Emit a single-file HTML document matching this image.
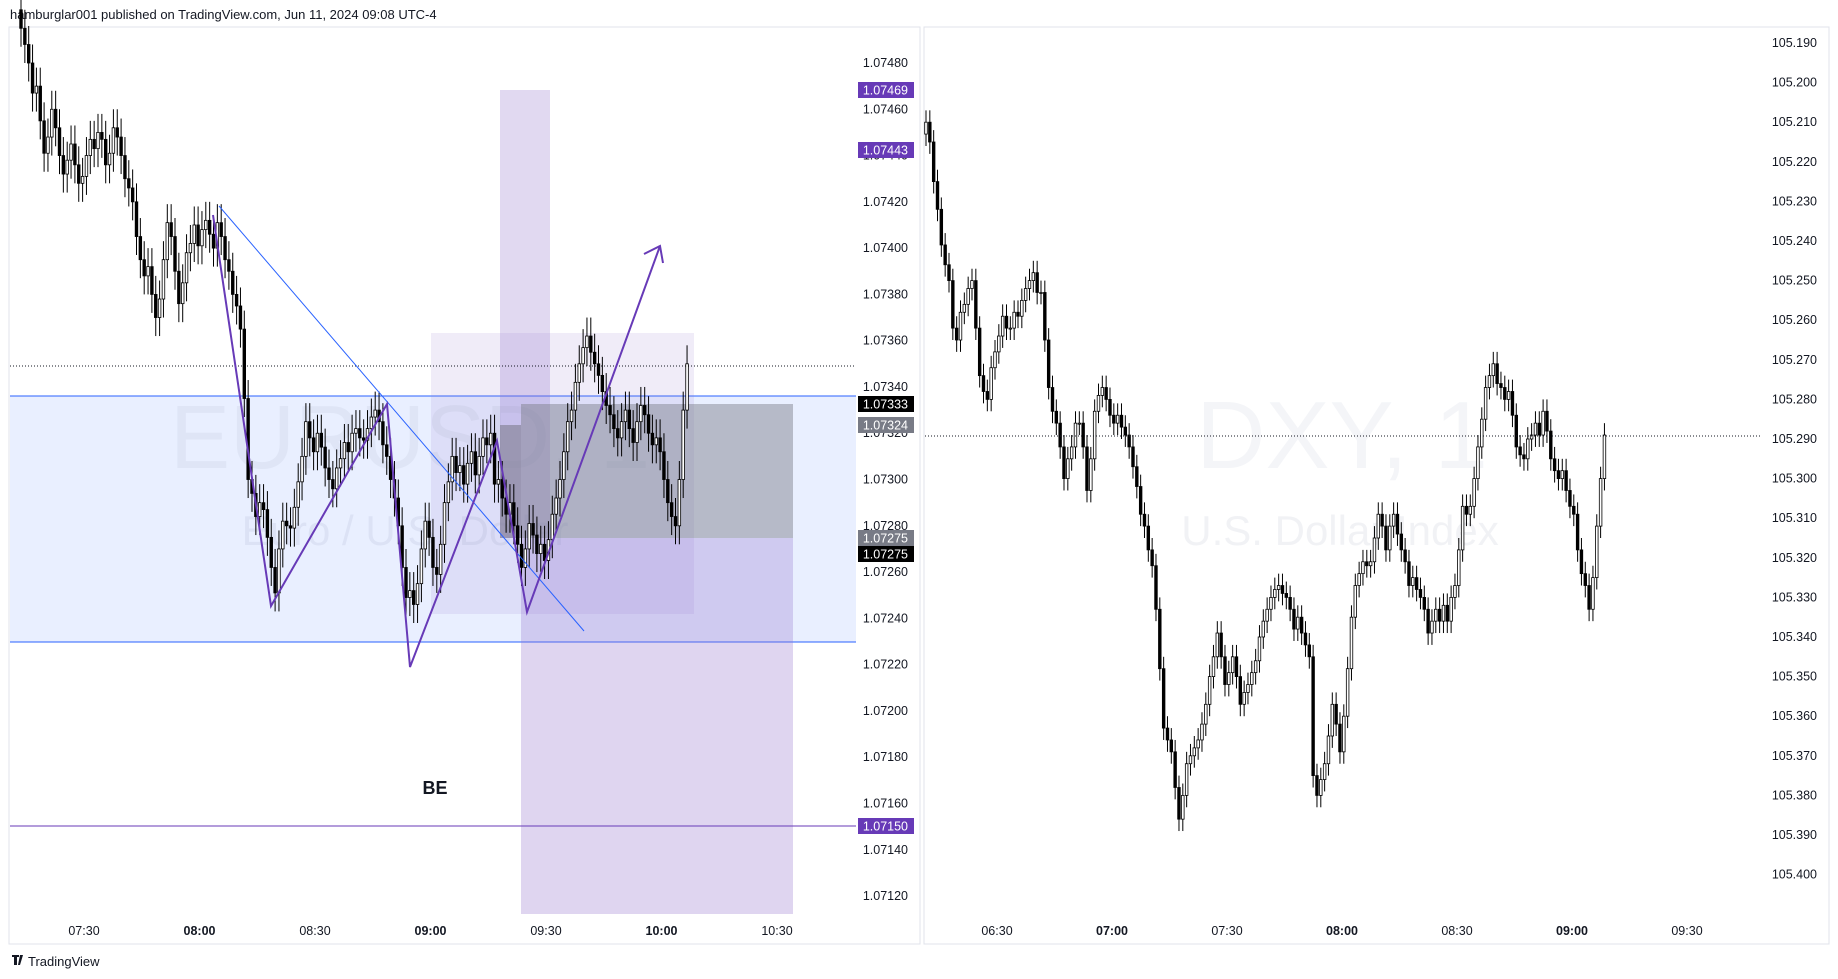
<!DOCTYPE html>
<html><head><meta charset="utf-8"><style>
body{margin:0;width:1838px;height:979px;background:#fff;font-family:"Liberation Sans",sans-serif;overflow:hidden}
svg{position:absolute;left:0;top:0}
</style></head><body>
<svg id="chart" width="1838" height="979" xmlns="http://www.w3.org/2000/svg" font-family="Liberation Sans, sans-serif">
<text x="10" y="19" font-size="13" fill="#131722">hamburglar001 published on TradingView.com, Jun 11, 2024 09:08 UTC-4</text>
<rect x="9" y="27" width="911" height="917" fill="#fff" stroke="#e0e3eb"/>
<rect x="924" y="27" width="905" height="917" fill="#fff" stroke="#e0e3eb"/>
<g id="left"></g>
<g id="right"></g>
<g>
<path d="M12 955h7v2h-2v8h-3v-8h-2z M20 955h3l-3 10h-2z" fill="#131722"/>
<text x="28" y="966" font-size="13" fill="#131722">TradingView</text>
</g>
</svg>
<script>
// EURUSD closes (points above 1.07000, 1 pt = 0.00001), 1-min candles starting 07:14
const eurCloses=[495,488,480,467,470,455,441,448,460,452,440,432,438,445,436,428,431,440,447,443,450,447,436,441,452,448,440,430,426,420,405,395,388,392,380,370,378,395,411,405,390,376,385,398,402,410,401,408,412,406,400,411,405,395,390,380,375,365,335,300,294,284,290,287,275,262,251,270,282,280,279,288,299,310,325,318,312,320,314,305,300,296,305,309,316,312,320,322,318,317,322,327,330,325,315,310,300,292,280,262,249,252,246,255,270,282,275,262,259,272,290,299,310,303,306,298,307,312,302,310,318,315,320,298,300,292,285,290,280,272,262,270,281,276,268,272,265,274,285,292,300,312,325,330,342,350,357,362,355,350,345,338,332,328,322,318,325,330,322,316,325,332,328,320,315,318,312,300,290,284,280,300,330,350];
const eurTicks=[1.0748,1.0746,1.0744,1.0742,1.074,1.0738,1.0736,1.0734,1.0732,1.073,1.0728,1.0726,1.0724,1.0722,1.072,1.0718,1.0716,1.0714,1.0712];
const eurTimes=["07:30","08:00","08:30","09:00","09:30","10:00","10:30"];
// DXY closes (thousandths above 105.000), 1-min candles starting 06:12
const dxyCloses=[210,215,225,232,241,246,250,262,265,258,256,252,250,262,274,278,280,272,268,264,259,262,262,258,259,255,252,250,248,253,253,265,277,283,286,292,300,295,292,286,286,292,303,295,283,279,277,280,284,286,284,287,289,292,297,302,309,312,318,322,333,348,363,366,369,378,386,380,372,370,368,366,362,357,350,345,339,345,352,349,345,350,357,354,352,349,346,340,336,333,330,328,327,329,330,333,338,335,339,342,345,375,380,376,372,365,357,362,369,360,348,335,327,324,321,322,321,315,309,312,318,312,309,314,318,321,327,325,328,330,333,339,336,333,336,332,336,330,327,318,307,309,307,300,292,285,277,274,271,276,277,280,278,284,292,294,295,290,289,286,289,283,288,295,298,300,298,303,307,309,318,324,327,333,325,312,300,289];
const dxyTicks=[190,200,210,220,230,240,250,260,270,280,290,300,310,320,330,340,350,360,370,380,390,400];
const dxyTimes=["06:30","07:00","07:30","08:00","08:30","09:00","09:30"];

const NS="http://www.w3.org/2000/svg";
function el(tag,attrs,parent){const e=document.createElementNS(NS,tag);for(const k in attrs)e.setAttribute(k,attrs[k]);parent.appendChild(e);return e;}
const L=document.getElementById('left'),R=document.getElementById('right');
const xL=i=>21+i*3.85, yL=p=>63+(1.0748-p)/0.0002*46.28, pL=v=>1.07+v/100000;
const xR=i=>926+i*3.833, yR=v=>43+(v-190)/10*39.6;

let r;
r=el('rect',{x:10,y:396,width:846,height:246,fill:'rgba(41,98,255,0.10)'},L);


r=el('line',{x1:10,y1:396,x2:856,y2:396,stroke:'#2962ff','stroke-width':1},L);


r=el('line',{x1:10,y1:642,x2:856,y2:642,stroke:'#2962ff','stroke-width':1},L);


r=el('rect',{x:431,y:333,width:263,height:281,fill:'rgba(149,117,205,0.14)'},L);


r=el('rect',{x:500,y:90,width:50,height:448,fill:'rgba(149,117,205,0.28)'},L);


r=el('rect',{x:500,y:425,width:21,height:113,fill:'rgba(100,100,110,0.45)'},L);


r=el('rect',{x:521,y:404,width:272,height:134,fill:'rgba(120,123,134,0.45)'},L);


r=el('rect',{x:521,y:538,width:272,height:376,fill:'rgba(149,117,205,0.30)'},L);


r=el('line',{x1:10,y1:826,x2:856,y2:826,stroke:'#673ab7','stroke-width':1},L);


r=el('line',{x1:10,y1:366,x2:856,y2:366,stroke:'#131722','stroke-width':1,'stroke-dasharray':'1,2'},L);


r=el('text',{x:410,y:468,'font-size':90,fill:'rgba(120,130,160,0.09)','text-anchor':'middle'},L);r.textContent='EURUSD, 1';


r=el('text',{x:405,y:545,'font-size':42,fill:'rgba(120,130,160,0.11)','text-anchor':'middle'},L);r.textContent='Euro / U.S. Dollar';


r=el('text',{x:1342,y:468,'font-size':96,fill:'rgba(120,130,160,0.08)','text-anchor':'middle'},R);r.textContent='DXY, 1';


r=el('text',{x:1340,y:545,'font-size':42,fill:'rgba(120,130,160,0.10)','text-anchor':'middle'},R);r.textContent='U.S. Dollar Index';



function candles(parent,closes,xf,yf,conv,wick,name){
  for(let i=0;i<closes.length;i++){
    const c=closes[i], o=i?closes[i-1]:c+wick;
    const hi=Math.max(o,c)+wick, lo=Math.min(o,c)-wick;
    const x=xf(i);
    const g=el('g',{},parent);
    
    
    el('line',{x1:x,y1:yf(conv(hi)),x2:x,y2:yf(conv(lo)),stroke:'#000','stroke-width':1},g);
    const yt=Math.min(yf(conv(o)),yf(conv(c))), yb=Math.max(yf(conv(o)),yf(conv(c)));
    const up=parent===L?c>=o:c<=o;
    el('rect',{x:x-1.3,y:yt,width:2.6,height:Math.max(1,yb-yt),fill:up?'#fff':'#000',stroke:'#000','stroke-width':0.8},g);
  }
}
candles(L,eurCloses,xL,yL,pL,8,'eurusd-candle');
candles(R,dxyCloses,xR,yR,v=>v,3,'dxy-candle');

r=el('line',{x1:219,y1:206,x2:584,y2:631,stroke:'#2962ff','stroke-width':1},L);


r=el('polyline',{points:'213,215 271,606 387,404 410,667 497,441 527,612 660,246',fill:'none',stroke:'#673ab7','stroke-width':2},L);


r=el('polyline',{points:'644,254 660,246 663,263',fill:'none',stroke:'#673ab7','stroke-width':2},L);


r=el('text',{x:435,y:794,'font-size':18,'font-weight':'bold',fill:'#131722','text-anchor':'middle'},L);r.textContent='BE';



r=el('line',{x1:925,y1:436,x2:1762,y2:436,stroke:'#131722','stroke-width':1,'stroke-dasharray':'1,2'},R);



for(const t of eurTicks){
  r=el('text',{x:908,y:yL(t)+4,'font-size':12.5,fill:'#131722','text-anchor':'end'},L);r.textContent=t.toFixed(5);
  
  
}
eurTimes.forEach((t,i)=>{
  r=el('text',{x:84+i*115.5,y:935,'font-size':12.5,fill:'#131722','text-anchor':'middle','font-weight':t.endsWith(':00')?'bold':'normal'},L);r.textContent=t;
  
  
});
for(const t of dxyTicks){
  r=el('text',{x:1817,y:yR(t)+4,'font-size':12.5,fill:'#131722','text-anchor':'end'},R);r.textContent=(105+t/1000).toFixed(3);
  
  
}
dxyTimes.forEach((t,i)=>{
  r=el('text',{x:997+i*115,y:935,'font-size':12.5,fill:'#131722','text-anchor':'middle','font-weight':t.endsWith(':00')?'bold':'normal'},R);r.textContent=t;
  
  
});
const badges=[["1.07469",90,'#673ab7'],["1.07443",150,'#673ab7'],["1.07333",404,'#000'],["1.07324",425,'#787b86'],["1.07275",538,'#787b86'],["1.07275",554,'#000'],["1.07150",826,'#673ab7']];
for(const b of badges){
  const g=el('g',{},L);
  
  
  el('rect',{x:858,y:b[1]-8,width:56,height:16,fill:b[2]},g);
  const t=el('text',{x:908,y:b[1]+4.5,'font-size':12.5,fill:'#fff','text-anchor':'end'},g);t.textContent=b[0];
}
</script>
</body></html>
